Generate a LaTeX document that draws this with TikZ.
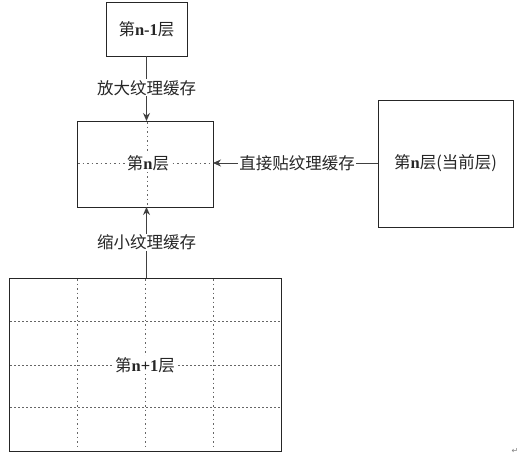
\documentclass[tikz,border=0pt]{standalone}
\usepackage{fontspec}
\setmainfont{Liberation Serif}
\newfontfamily\cjk{Noto Sans CJK SC}
\newfontfamily\symf{DejaVu Sans}
\newcommand\zh[1]{{\cjk #1}}
\usetikzlibrary{arrows.meta}
\begin{document}
\begin{tikzpicture}[x=1pt,y=-1pt,
  box/.style={draw=black!85,line width=1pt},
  conn/.style={draw=black!75,line width=0.9pt,-{Stealth[length=8pt,width=7pt]}},
  lbl/.style={fill=white,inner sep=1pt,text=black!85,font=\fontsize{16.5}{18}\selectfont},
  txt/.style={inner sep=1pt,text=black!85,font=\fontsize{16.5}{18}\selectfont},
  grid/.style={draw=black!60,line width=0.6pt,dash pattern=on 1.5pt off 3pt},
  gridh/.style={draw=black!60,line width=0.6pt,dash pattern=on 2pt off 2pt}]
\useasboundingbox (0,0) rectangle (521,460);
% boxes
\draw[box] (106,3) rectangle (187,56);
\coordinate (topB) at (146.5,56);
\draw[box] (77,121) rectangle (213,207);
\coordinate (midT) at (146.5,121);
\coordinate (midB) at (146.5,207);
\coordinate (midR) at (213,163);
\draw[box] (378,100) rectangle (513,227);
\coordinate (rightL) at (378,163);
\draw[box] (9,278) rectangle (281,451);
\coordinate (botT) at (146.5,278);
% grid in bottom box
\foreach \x in {77,145,213} \draw[grid] (\x,279) -- (\x,450);
\foreach \y in {321,365,407} \draw[gridh] (10,\y) -- (280,\y);
% dotted in middle box
\draw[grid] (147,122) -- (147,206);
\draw[grid] (78,163) -- (212,163);
% labels in boxes
\node[txt] (nm1) at (146.5,29) {\zh{第}\textbf{n-1}\zh{层}};
\node[txt,fill=white] (n) at (148,163) {\zh{第}\textbf{n}\zh{层}};
\node[txt] (ncur) at (445.5,163) {\zh{第}\textbf{n}\zh{层(当前层)}};
\node[txt,fill=white] (np1) at (145,365) {\zh{第}\textbf{n+1}\zh{层}};
% connectors
\draw[conn] (topB) -- node[lbl,pos=0.49] (l1) {\zh{放大纹理缓存}} (midT);
\draw[conn] (botT) -- node[lbl,pos=0.5] (l2) {\zh{缩小纹理缓存}} (midB);
\draw[conn] (rightL) -- node[lbl,pos=0.49] (l3) {\zh{直接贴纹理缓存}} (midR);
% paragraph mark
\node[inner sep=0pt,text=black!50,font=\symf\fontsize{8}{8}\selectfont] (pm) at (515,451) {↵};
\end{tikzpicture}
\end{document}
